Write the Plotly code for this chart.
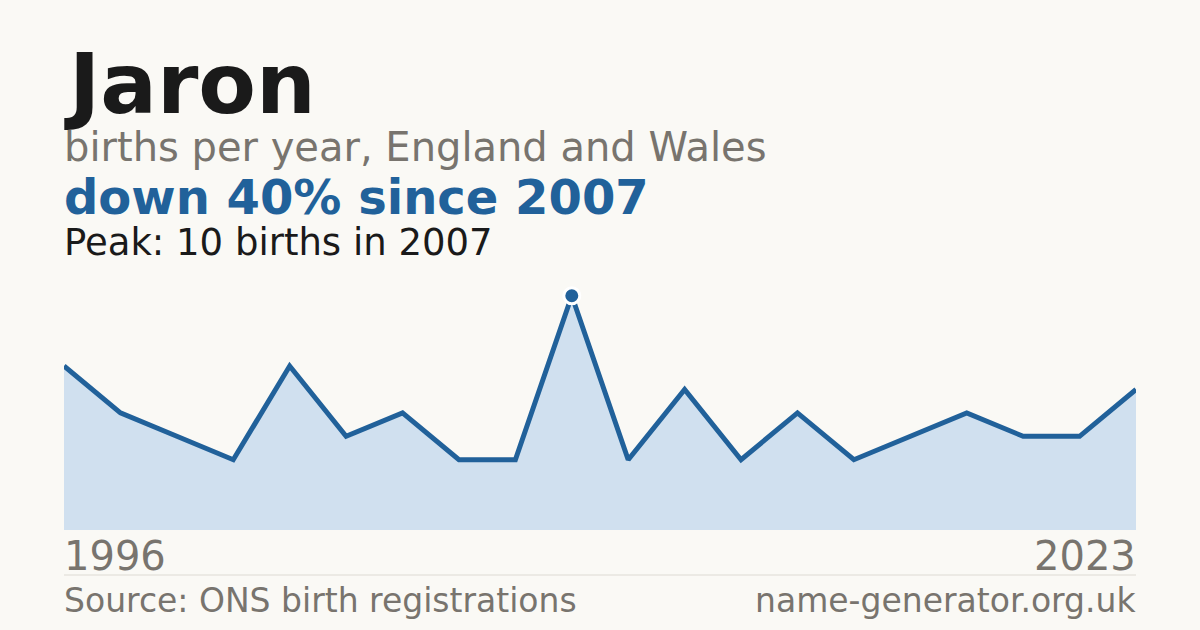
import plotly.graph_objects as go

# births per year (years with fewer than 3 births are not published)
years = [1996, 1997, 1998, 2000, 2001, 2002, 2003, 2004, 2006, 2007,
         2008, 2009, 2011, 2012, 2014, 2015, 2017, 2019, 2021, 2023]
births = [7, 5, 4, 3, 7, 4, 5, 3, 3, 10,
          3, 6, 3, 5, 3, 4, 5, 4, 4, 6]
peak_idx = births.index(max(births))

bg = '#faf9f5'
blue = '#21619a'
fill = '#d0e0ef'
grey = '#78746e'

W, H = 1200, 630
top, bottom = 270, 530


def py(p):
    # pixel row -> paper y
    return (bottom - p) / (bottom - top)


idx = list(range(len(years)))

fig = go.Figure()
fig.add_trace(go.Scatter(x=idx, y=births, mode='lines', fill='tozeroy',
                         fillcolor=fill, line=dict(color=blue, width=5),
                         hoverinfo='skip'))
fig.add_trace(go.Scatter(x=[idx[peak_idx]], y=[births[peak_idx]], mode='markers',
                         marker=dict(color=blue, size=16, line=dict(color='white', width=3)),
                         hoverinfo='skip'))

fig.update_layout(
    width=W, height=H, showlegend=False,
    paper_bgcolor=bg, plot_bgcolor=bg,
    margin=dict(l=64, r=64, t=top, b=H - bottom),
    font=dict(family='DejaVu Sans'),
    xaxis=dict(range=[0, len(years) - 1], visible=False, fixedrange=True),
    yaxis=dict(range=[0, 11.1], visible=False, fixedrange=True),
)

def note(text, x, p, size, color, xanchor='left', bold=False):
    if bold:
        text = '<b>' + text + '</b>'
    fig.add_annotation(text=text, x=x, y=py(p), xref='paper', yref='paper',
                       xanchor=xanchor, yanchor='middle', showarrow=False,
                       font=dict(size=size, color=color), xshift=-2 if xanchor == 'left' else 2)

note('Jaron', 0, 84, 84, '#1a1a1a', bold=True)
note('births per year, England and Wales', 0, 147, 40, grey)
note(f'down 40% since {years[peak_idx]}', 0, 197, 48, blue, bold=True)
note(f'Peak: {births[peak_idx]} births in {years[peak_idx]}', 0, 243, 37, '#1a1a1a')
note(str(years[0]), 0, 556, 40, grey)
note(str(years[-1]), 1, 556, 40, grey, xanchor='right')
note('Source: ONS birth registrations', 0, 600, 33, grey)
note('name-generator.org.uk', 1, 600, 33, grey, xanchor='right')

fig.add_shape(type='line', xref='paper', yref='paper', x0=0, x1=1,
              y0=py(575), y1=py(575), line=dict(color='#dddad3', width=1))

fig.write_html("out.html", config={'displayModeBar': False},
               post_script="document.body.style.margin='0';document.body.style.background='%s';" % bg)
